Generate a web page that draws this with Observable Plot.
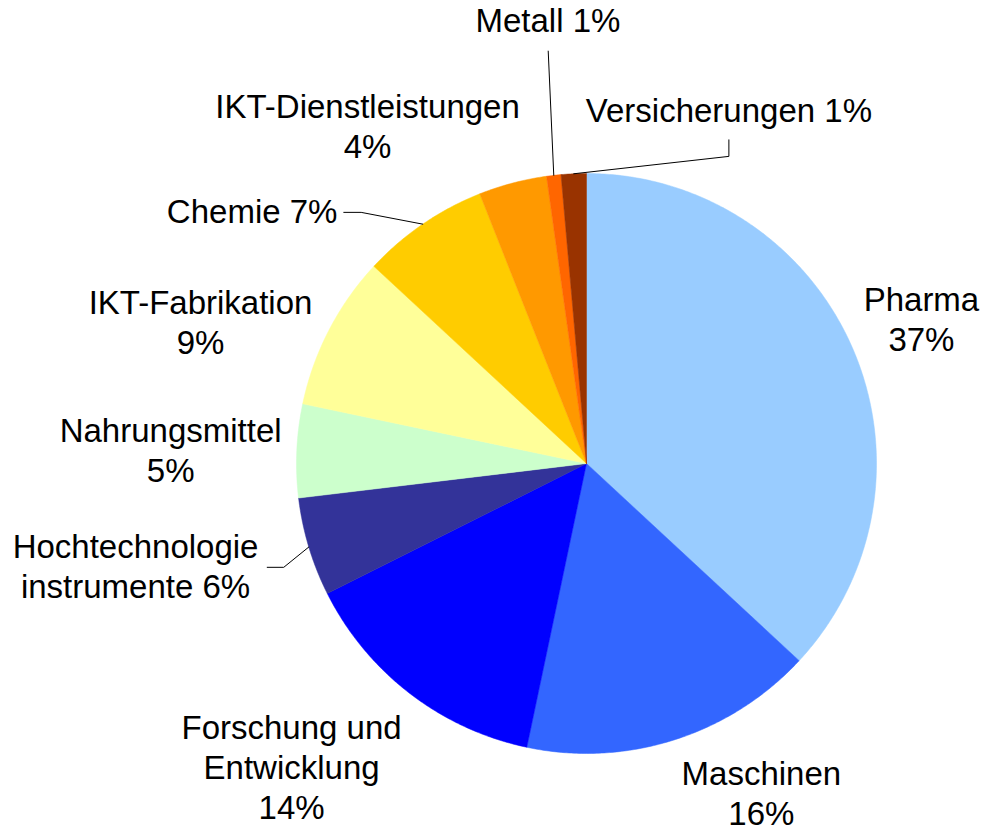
<!DOCTYPE html>
<html>
<head>
<meta charset="utf-8">
<script src="https://cdn.jsdelivr.net/npm/d3@7"></script>
<script src="https://cdn.jsdelivr.net/npm/@observablehq/plot@0.6"></script>
<style>
  html, body { margin: 0; padding: 0; background: #fff; }
  #chart svg { display: block; }
</style>
</head>
<body>
<div id="chart"></div>
<script>
// ---- data (clockwise from 12 o'clock) ----
const categories = ["Pharma", "Maschinen", "Forschung und Entwicklung", "Hochtechnologie instrumente",
  "Nahrungsmittel", "IKT-Fabrikation", "Chemie", "IKT-Dienstleistungen", "Metall", "Versicherungen"];
const shares = [36.9, 16.4, 14.3, 5.5, 5.2, 8.6, 7.1, 3.8, 0.8, 1.4];
const labelTexts = ["Pharma\n37%", "Maschinen\n16%", "Forschung und\nEntwicklung\n14%",
  "Hochtechnologie\ninstrumente 6%", "Nahrungsmittel\n5%", "IKT-Fabrikation\n9%", "Chemie 7%",
  "IKT-Dienstleistungen\n4%", "Metall 1%", "Versicherungen 1%"];
const colors = ["#99CCFF", "#3366FF", "#0000FF", "#333399", "#CCFFCC", "#FFFF99", "#FFCC00",
  "#FF9900", "#FF6600", "#993300"];

// ---- layout (label placement in pie-radius units, as Excel placed them) ----
const labelPos = [[1.155, 0.500], [0.603, -1.134], [-1.017, -1.045], [-1.555, -0.352], [-1.434, 0.048],
  [-1.331, 0.491], [-1.153, 0.872], [-0.755, 1.168], [-0.133, 1.531], [0.491, 1.220]];
// leader line bends (from slice edge outwards) for labels placed away from their slice
const leaderBends = {
  "Metall": [[-0.132, 1.422]],
  "Versicherungen": [[0.491, 1.059], [0.491, 1.116]],
  "Chemie": [[-0.777, 0.866], [-0.837, 0.866]],
  "Hochtechnologie instrumente": [[-1.044, -0.358], [-1.101, -0.358]]
};

// ---- geometry from data ----
const total = d3.sum(shares);
let acc = 0;
const slices = categories.map((name, i) => {
  const a0 = acc / total * 2 * Math.PI;
  acc += shares[i];
  const a1 = acc / total * 2 * Math.PI;
  return {name, a0, a1, mid: (a0 + a1) / 2};
});
const polar = (a, r) => ({x: r * Math.sin(a), y: r * Math.cos(a)});

const piePoints = [];
for (const s of slices) {
  piePoints.push({name: s.name, ...polar(0, 0)});
  const n = Math.max(2, Math.ceil((s.a1 - s.a0) / (Math.PI / 360)));
  for (let k = 0; k <= n; k++) {
    piePoints.push({name: s.name, ...polar(s.a0 + (s.a1 - s.a0) * k / n, 1)});
  }
  piePoints.push({name: s.name, ...polar(0, 0)});
}

const labels = categories.map((name, i) => ({name, text: labelTexts[i], x: labelPos[i][0], y: labelPos[i][1]}));

const leaderPoints = [];
for (const s of slices) {
  const bends = leaderBends[s.name];
  if (!bends) continue;
  leaderPoints.push({name: s.name, ...polar(s.mid, 1)});
  for (const [x, y] of bends) leaderPoints.push({name: s.name, x, y});
}

const font = "'Liberation Sans', Arial, Helvetica, sans-serif";

const chart = Plot.plot({
  width: 982,
  height: 828,
  marginLeft: 296,
  marginRight: 106,
  marginTop: 173,
  marginBottom: 75,
  x: {domain: [-1, 1], axis: null},
  y: {domain: [-1, 1], axis: null},
  color: {domain: categories, range: colors},
  style: {fontFamily: font, background: "#fff", overflow: "visible"},
  marks: [
    Plot.line(piePoints, {x: "x", y: "y", z: "name", fill: "name", stroke: "name", strokeWidth: 0.5, curve: "linear"}),
    Plot.line(leaderPoints, {x: "x", y: "y", z: "name", stroke: "#000", strokeWidth: 1, curve: "linear"}),
    Plot.text(labels, {x: "x", y: "y", text: "text", fontSize: 33, lineHeight: 1.21, fill: "#000",
      textAnchor: "middle", lineAnchor: "middle", fontFamily: font})
  ]
});
document.getElementById("chart").appendChild(chart);
</script>
</body>
</html>
